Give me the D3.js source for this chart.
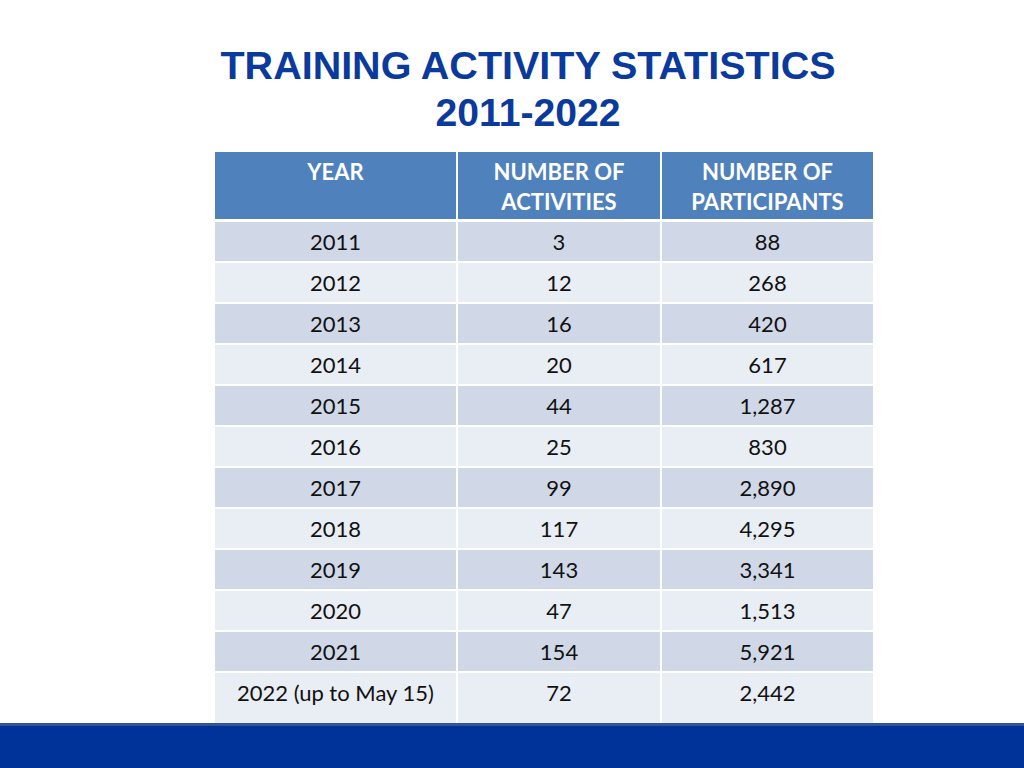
<!DOCTYPE html>
<html><head><meta charset="utf-8">
<script src="https://cdn.jsdelivr.net/npm/d3@7"></script>
<style>html,body{margin:0;padding:0;background:#fff;}svg{display:block;}</style>
</head><body>
<svg id="c" width="1024" height="768"></svg>
<script>
const titleLines = ["TRAINING ACTIVITY STATISTICS", "2011-2022"];
const headers = [["YEAR"], ["NUMBER OF", "ACTIVITIES"], ["NUMBER OF", "PARTICIPANTS"]];
const years = ["2011","2012","2013","2014","2015","2016","2017","2018","2019","2020","2021","2022 (up to May 15)"];
const activities = [3,12,16,20,44,25,99,117,143,47,154,72];
const participants = [88,268,420,617,1287,830,2890,4295,3341,1513,5921,2442];

const svg = d3.select("#c");
const fmt = d3.format(",");
const bodyFont = "Lato, 'Open Sans', sans-serif";

// title
svg.selectAll("text.title").data(titleLines).join("text")
  .attr("x", 528)
  .attr("y", (d,i)=> 79 + i*47)
  .attr("text-anchor","middle")
  .attr("font-family","'Liberation Sans', Arial, sans-serif")
  .attr("font-weight","bold")
  .attr("font-size", 39.5)
  .attr("fill","#0a3a9c")
  .attr("textLength", (d,i)=> i===0 ? 615 : 185)
  .attr("lengthAdjust","spacingAndGlyphs")
  .text(d=>d);

const colEdges = [214, 457, 661, 874];
const headerTop = 151, headerBottom = 220;
const rowTop = 221, rowH = 41;
const y = d3.scaleBand().domain(years).range([rowTop, rowTop + rowH*years.length]).padding(0);

// header
const hg = svg.append("g");
hg.selectAll("rect").data(headers).join("rect")
  .attr("x",(d,i)=>colEdges[i]).attr("y",headerTop)
  .attr("width",(d,i)=>colEdges[i+1]-colEdges[i]).attr("height",headerBottom-headerTop)
  .attr("fill","#4f81bd").attr("stroke","#fff").attr("stroke-width",2);
headers.forEach((lines,i)=>{
  const cx = (colEdges[i]+colEdges[i+1])/2;
  hg.selectAll(null).data(lines).join("text")
    .attr("x",cx).attr("y",(d,j)=>180 + j*30)
    .attr("text-anchor","middle")
    .attr("font-family",bodyFont).attr("font-weight","bold").attr("font-size",22)
    .attr("fill","#fff").text(d=>d);
});

// rows
const rows = years.map((yr,i)=>({yr, vals:[yr, String(activities[i]), fmt(participants[i])], i}));
const rg = svg.append("g");
rows.forEach(r=>{
  const g = rg.append("g");
  g.selectAll("rect").data(r.vals).join("rect")
    .attr("x",(d,i)=>colEdges[i]).attr("y",y(r.yr))
    .attr("width",(d,i)=>colEdges[i+1]-colEdges[i])
    .attr("height", r.i===years.length-1 ? 60 : y.bandwidth())
    .attr("fill", r.i%2===0 ? "#d0d8e8" : "#e9edf4")
    .attr("stroke","#fff").attr("stroke-width",2);
  g.selectAll("text").data(r.vals).join("text")
    .attr("x",(d,i)=>(colEdges[i]+colEdges[i+1])/2)
    .attr("y", y(r.yr) + 29)
    .attr("text-anchor","middle")
    .attr("font-family",bodyFont).attr("font-size",22)
    .attr("fill","#111").text(d=>d);
});

// bottom bar
svg.append("rect").attr("x",0).attr("y",724).attr("width",1024).attr("height",44).attr("fill","#003399");
svg.append("rect").attr("x",0).attr("y",723).attr("width",1024).attr("height",3).attr("fill","#2f5597");
</script>
</body></html>
